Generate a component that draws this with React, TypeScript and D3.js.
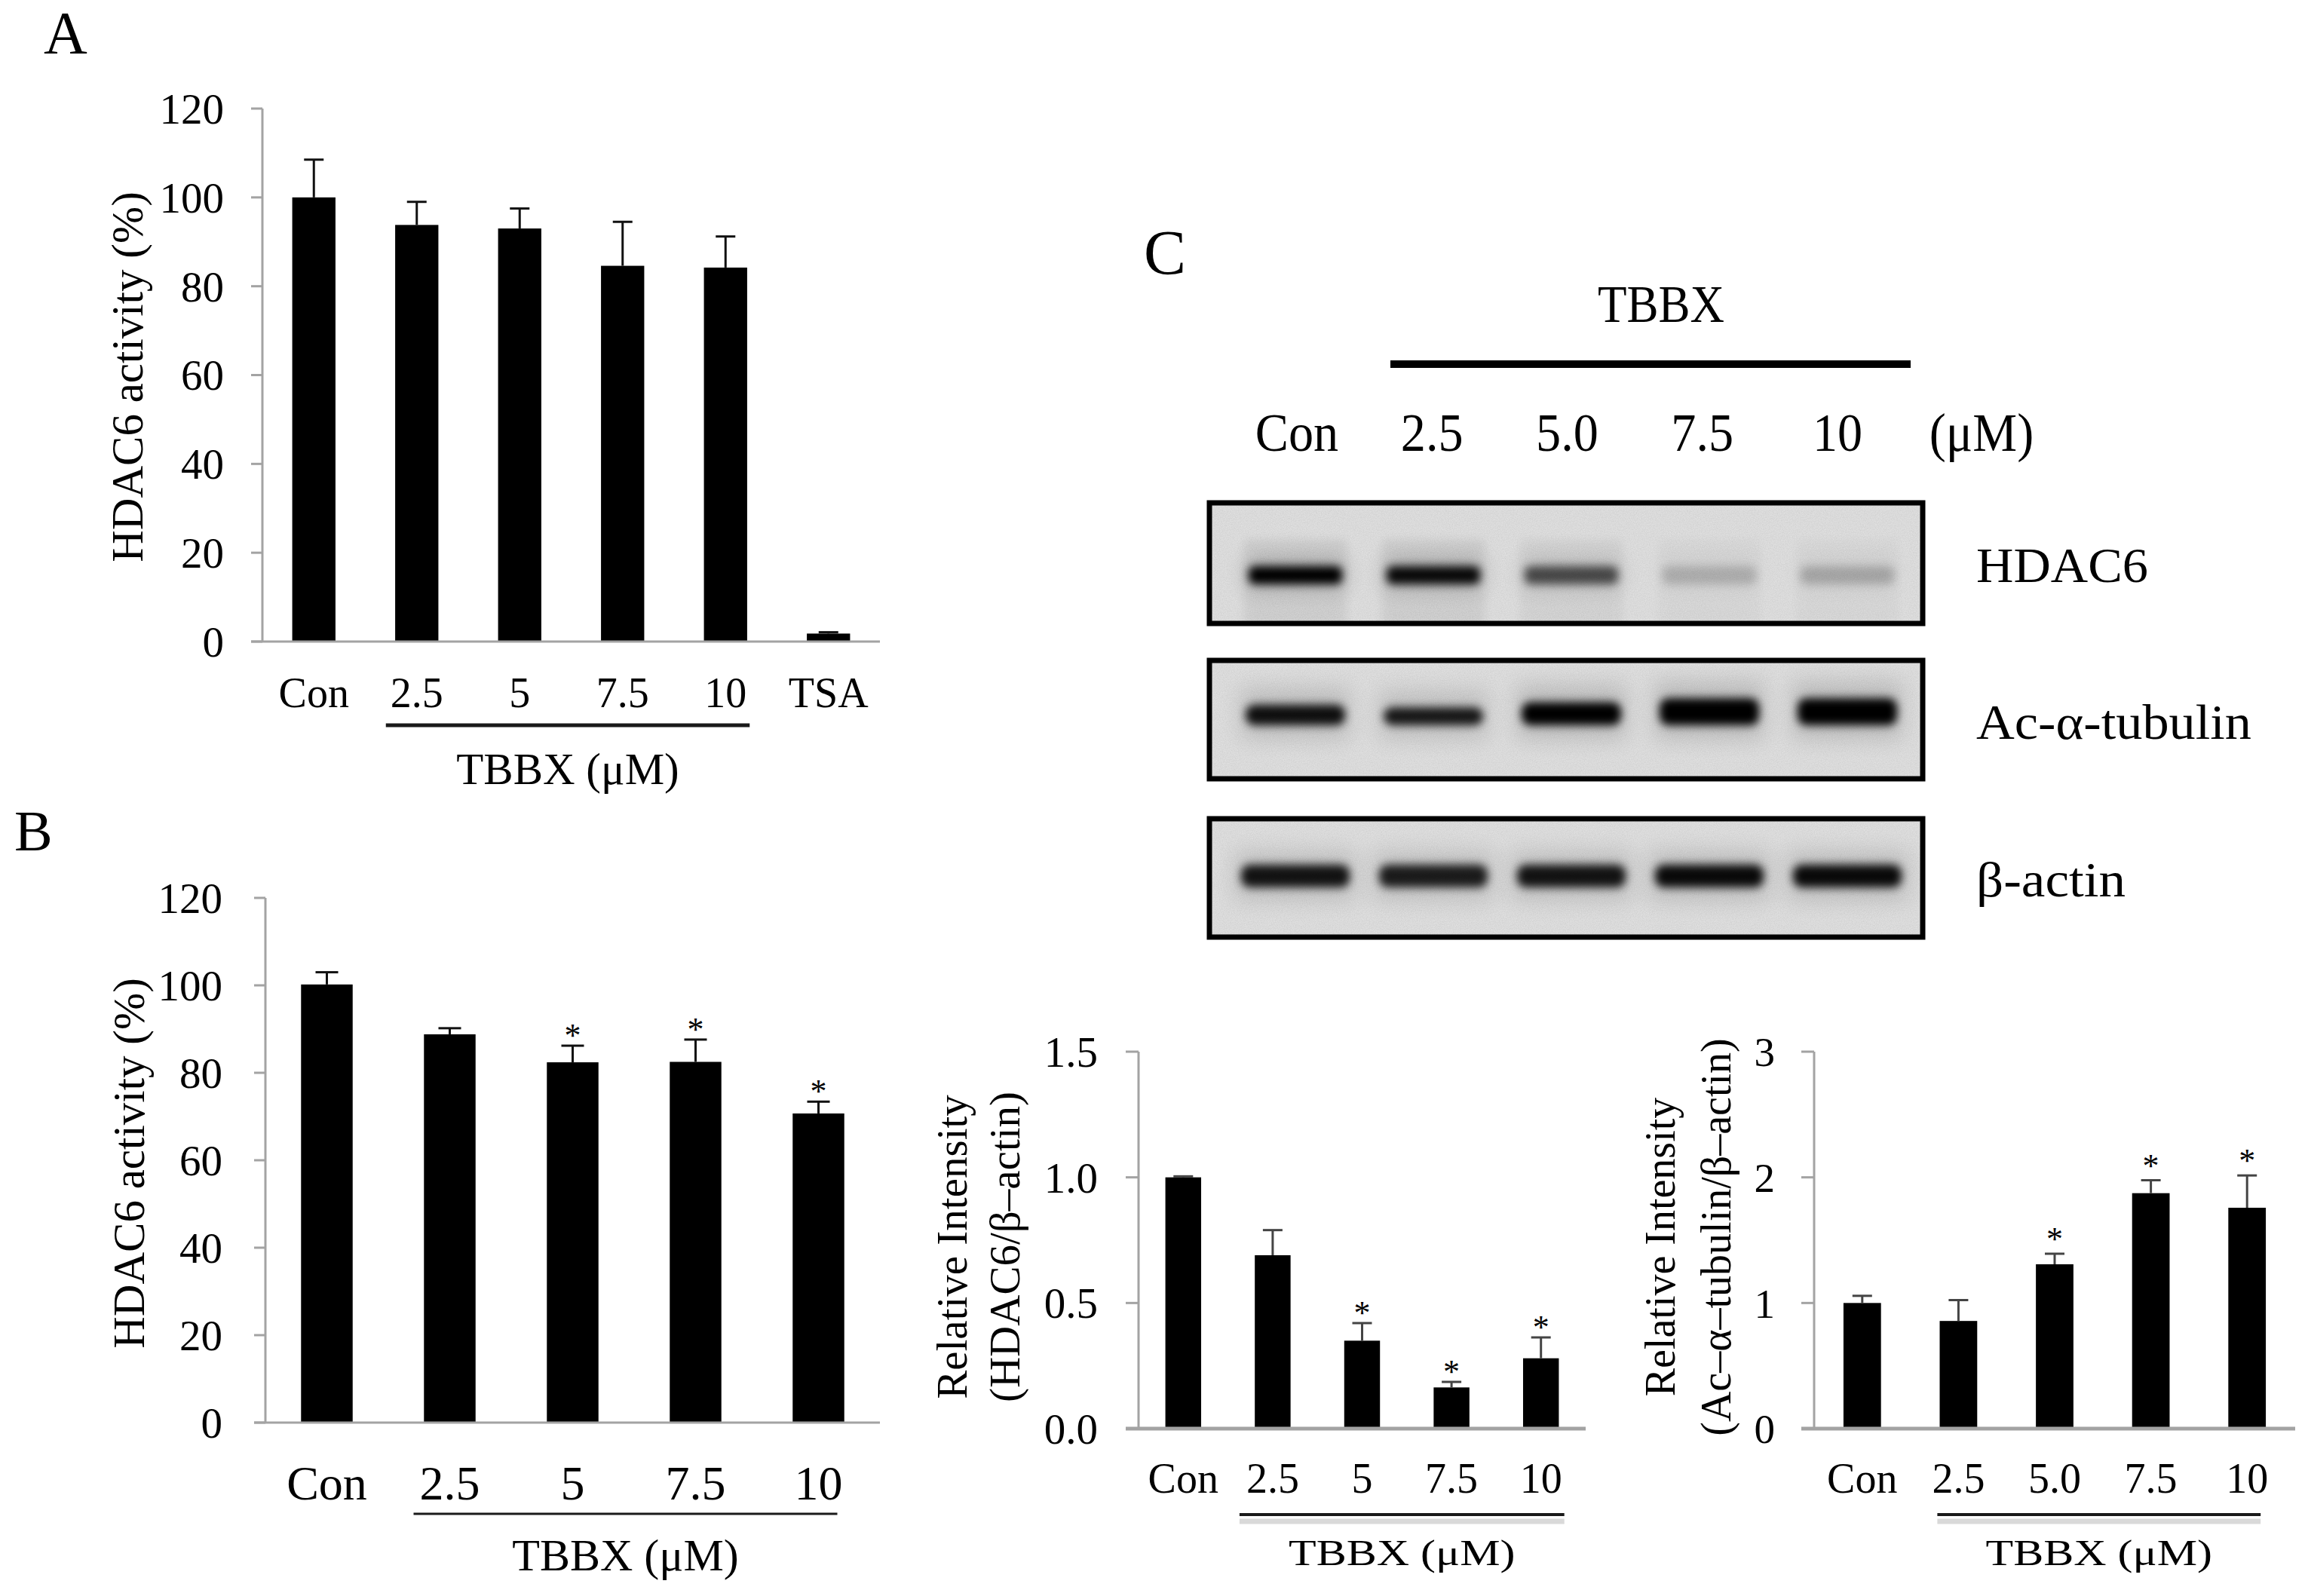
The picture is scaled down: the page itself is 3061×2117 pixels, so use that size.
import React from "react";
import * as d3 from "d3";

const W = 3061;
const H = 2117;
const FONT = "'Liberation Serif', 'Times New Roman', Times, serif";

// ---------- Panel A data ----------
const catsA = ["Con", "2.5", "5", "7.5", "10", "TSA"];
const valsA = [100.0, 93.8, 93.0, 84.6, 84.2, 1.8];
const errsA = [8.5, 5.2, 4.5, 9.9, 7.0, 0.3];
const starsA = [false, false, false, false, false, false];
const ticksA = [0, 20, 40, 60, 80, 100, 120];

// ---------- Panel B data ----------
const catsB = ["Con", "2.5", "5", "7.5", "10"];
const valsB = [100.2, 88.8, 82.4, 82.5, 70.7];
const errsB = [2.8, 1.4, 3.8, 5.1, 2.7];
const starsB = [false, false, true, true, true];
const ticksB = [0, 20, 40, 60, 80, 100, 120];

// ---------- Panel C quantification: HDAC6/β-actin ----------
const catsC1 = ["Con", "2.5", "5", "7.5", "10"];
const valsC1 = [1.0, 0.69, 0.35, 0.164, 0.28];
const errsC1 = [0.004, 0.1, 0.07, 0.022, 0.083];
const starsC1 = [false, false, true, true, true];
const ticksC1 = [0, 0.5, 1.0, 1.5];

// ---------- Panel C quantification: Ac-α-tubulin/β-actin ----------
const catsC2 = ["Con", "2.5", "5.0", "7.5", "10"];
const valsC2 = [1.0, 0.857, 1.308, 1.874, 1.758];
const errsC2 = [0.057, 0.166, 0.084, 0.103, 0.257];
const starsC2 = [false, false, true, true, true];
const ticksC2 = [0, 1, 2, 3];

// ---------- Panel C western blot ----------
const blotLanes = ["Con", "2.5", "5.0", "7.5", "10"];
const blotRows = ["HDAC6", "Ac-α-tubulin", "β-actin"];
const hdac6Band = [1.0, 0.95, 0.62, 0.17, 0.2];
const acTubulinBand = [0.92, 0.88, 1.0, 1.0, 1.0];
const acTubulinThick = [0.8, 0.7, 0.9, 1.05, 1.05];
const actinBand = [0.9, 0.86, 0.9, 0.95, 0.95];

type ChartProps = {
  cats: string[];
  vals: number[];
  errs: number[];
  stars: boolean[];
  ticks: number[];
  yMax: number;
  fmt: (n: number) => string;
  x0: number;
  x1: number;
  yTop: number;
  yBot: number;
  pad: number;
  tickLen: number;
  yTickRight: number;
  yTickFont: number;
  xTickFont: number;
  xTickBase: number;
  yLabels: string[];
  yLabelX: number[];
  yLabelY: number[];
  yLabelFont: number;
  ulFrom: number;
  ulTo: number;
  ulL: number;
  ulR: number;
  ulY: number;
  ulW: number;
  ulShadow: boolean;
  tbbxBase: number;
  tbbxFont: number;
  tbbxSx: number;
  capW: number;
  errColor: string;
  xAxisW: number;
  starFont: number;
  starOff: number;
};

function BarChart(p: ChartProps) {
  const x = d3
    .scaleBand<string>()
    .domain(p.cats)
    .range([p.x0, p.x1])
    .paddingInner(p.pad)
    .paddingOuter(p.pad / 2);
  const y = d3.scaleLinear().domain([0, p.yMax]).range([p.yBot, p.yTop]);
  const bw = x.bandwidth();
  const cx = (c: string) => (x(c) as number) + bw / 2;
  const axisColor = "#a3a3a3";
  const ulX1 = cx(p.cats[p.ulFrom]) - p.ulL;
  const ulX2 = cx(p.cats[p.ulTo]) + p.ulR;
  const ulMid = (ulX1 + ulX2) / 2;
  return (
    <g fontFamily={FONT} fill="#000">
      <line x1={p.x0} x2={p.x0} y1={p.yTop} y2={p.yBot} stroke={axisColor} strokeWidth={3} />
      {p.ticks.map((t) => (
        <g key={"t" + t}>
          <line x1={p.x0 - p.tickLen} x2={p.x0} y1={y(t)} y2={y(t)} stroke={axisColor} strokeWidth={3} />
          <text x={p.yTickRight} y={y(t)} dy="0.35em" textAnchor="end" fontSize={p.yTickFont}>
            {p.fmt(t)}
          </text>
        </g>
      ))}
      {p.cats.map((c, i) => (
        <rect key={"b" + c} x={x(c)} y={y(p.vals[i])} width={bw} height={p.yBot - y(p.vals[i])} fill="#000" />
      ))}
      {p.cats.map((c, i) => {
        const top = y(p.vals[i] + p.errs[i]);
        return (
          <g key={"e" + c} stroke={p.errColor} strokeWidth={3}>
            <line x1={cx(c)} x2={cx(c)} y1={y(p.vals[i])} y2={top} />
            <line x1={cx(c) - p.capW / 2} x2={cx(c) + p.capW / 2} y1={top} y2={top} />
          </g>
        );
      })}
      {p.cats.map((c, i) =>
        p.stars[i] ? (
          <text key={"s" + c} x={cx(c)} y={y(p.vals[i] + p.errs[i]) - p.starOff} textAnchor="middle" fontSize={p.starFont}>
            *
          </text>
        ) : null
      )}
      <line x1={p.x0 - p.tickLen} x2={p.x1} y1={p.yBot} y2={p.yBot} stroke={axisColor} strokeWidth={p.xAxisW} />
      {p.cats.map((c) => (
        <text key={"x" + c} x={cx(c)} y={p.xTickBase} textAnchor="middle" fontSize={p.xTickFont}>
          {c}
        </text>
      ))}
      {p.yLabels.map((l, i) => (
        <text
          key={"yl" + i}
          transform={`translate(${p.yLabelX[i]},${p.yLabelY[i]}) rotate(-90)`}
          textAnchor="middle"
          dy="0.35em"
          fontSize={p.yLabelFont}
        >
          {l}
        </text>
      ))}
      {p.ulShadow ? (
        <line x1={ulX1} x2={ulX2} y1={p.ulY + 9} y2={p.ulY + 9} stroke="#d9d9d9" strokeWidth={7} />
      ) : null}
      <line x1={ulX1} x2={ulX2} y1={p.ulY} y2={p.ulY} stroke="#1a1a1a" strokeWidth={p.ulW} />
      <text
        transform={`translate(${ulMid},${p.tbbxBase}) scale(${p.tbbxSx},1)`}
        textAnchor="middle"
        fontSize={p.tbbxFont}
      >
        TBBX (μM)
      </text>
    </g>
  );
}

function Blot() {
  const boxX0 = 1601;
  const boxX1 = 2553;
  const boxes = [
    [664, 830],
    [873, 1036],
    [1083, 1246],
  ];
  const lane = d3.scalePoint<string>().domain(blotLanes).range([1718, 2450]);
  const labelLane = d3.scalePoint<string>().domain(blotLanes).range([1720, 2437]);
  const bandW = 132;
  const rowBase = [772, 980, 1189];
  const rowLen = [228, 365, 198];
  return (
    <g fontFamily={FONT}>
      <defs>
        <filter id="blur6" x="-50%" y="-100%" width="200%" height="300%">
          <feGaussianBlur stdDeviation="6" />
        </filter>
        <filter id="blur14" x="-50%" y="-100%" width="200%" height="300%">
          <feGaussianBlur stdDeviation="14" />
        </filter>
        <filter id="grain" x="0" y="0" width="100%" height="100%">
          <feTurbulence type="fractalNoise" baseFrequency="0.8" numOctaves="2" seed="3" />
          <feColorMatrix type="matrix" values="0 0 0 0 0  0 0 0 0 0  0 0 0 0 0  0 0 0 0.18 0" />
        </filter>
        {boxes.map((b, i) => (
          <clipPath id={"clip" + i} key={"c" + i}>
            <rect x={boxX0} y={b[0]} width={boxX1 - boxX0} height={b[1] - b[0]} />
          </clipPath>
        ))}
      </defs>
      <text x={1517} y={364} fontSize={84}>C</text>
      <text transform="translate(2203,427) scale(0.9,1)" textAnchor="middle" fontSize={70}>
        TBBX
      </text>
      <line x1={1844} x2={2534} y1={483} y2={483} stroke="#000" strokeWidth={10} />
      {blotLanes.map((l) => (
        <text
          key={"ll" + l}
          transform={`translate(${labelLane(l)},598) scale(0.92,1)`}
          textAnchor="middle"
          fontSize={72}
        >
          {l}
        </text>
      ))}
      <text transform="translate(2628,598) scale(0.92,1)" textAnchor="middle" fontSize={72}>
        (μM)
      </text>

      {boxes.map((b, bi) => (
        <g key={"box" + bi}>
          <g clipPath={`url(#clip${bi})`}>
            <rect x={boxX0} y={b[0]} width={boxX1 - boxX0} height={b[1] - b[0]} fill="#e6e6e6" />
            <rect x={boxX0} y={b[0]} width={boxX1 - boxX0} height={b[1] - b[0]} filter="url(#grain)" opacity={0.6} />
            {bi === 0 &&
              blotLanes.map((l, i) => (
                <g key={"h" + l}>
                  <rect
                    x={(lane(l) as number) - 68}
                    y={715}
                    width={136}
                    height={130}
                    fill="#000"
                    opacity={0.05 * hdac6Band[i] + 0.01}
                    filter="url(#blur6)"
                  />
                  <rect
                    x={(lane(l) as number) - bandW / 2}
                    y={740}
                    width={bandW}
                    height={42}
                    fill="#000"
                    opacity={0.18 * hdac6Band[i]}
                    filter="url(#blur14)"
                  />
                  <rect
                    x={(lane(l) as number) - bandW / 2 + 4}
                    y={751}
                    width={bandW - 8}
                    height={24}
                    rx={8}
                    fill="#000"
                    opacity={hdac6Band[i]}
                    filter="url(#blur6)"
                  />
                </g>
              ))}
            {bi === 1 &&
              blotLanes.map((l, i) => {
                const h = 34 * acTubulinThick[i];
                return (
                  <g key={"a" + l}>
                    <rect
                      x={(lane(l) as number) - bandW / 2 - 6}
                      y={960 - h - 20}
                      width={bandW + 12}
                      height={h + 40}
                      fill="#000"
                      opacity={0.14 * acTubulinBand[i]}
                      filter="url(#blur14)"
                    />
                    <rect
                      x={(lane(l) as number) - bandW / 2}
                      y={962 - h}
                      width={bandW}
                      height={h}
                      rx={12}
                      fill="#000"
                      opacity={acTubulinBand[i]}
                      filter="url(#blur6)"
                    />
                  </g>
                );
              })}
            {bi === 2 &&
              blotLanes.map((l, i) => (
                <g key={"b" + l}>
                  <rect
                    x={(lane(l) as number) - 80}
                    y={1130}
                    width={160}
                    height={64}
                    fill="#000"
                    opacity={0.14 * actinBand[i]}
                    filter="url(#blur14)"
                  />
                  <rect
                    x={(lane(l) as number) - 72}
                    y={1147}
                    width={144}
                    height={30}
                    rx={12}
                    fill="#000"
                    opacity={actinBand[i]}
                    filter="url(#blur6)"
                  />
                </g>
              ))}
          </g>
          <rect
            x={boxX0 + 3}
            y={b[0] + 3}
            width={boxX1 - boxX0 - 6}
            height={b[1] - b[0] - 6}
            fill="none"
            stroke="#000"
            strokeWidth={7}
          />
        </g>
      ))}
      {blotRows.map((r, i) => (
        <text
          key={"r" + r}
          x={2621}
          y={rowBase[i]}
          fontSize={66}
          textLength={rowLen[i]}
          lengthAdjust="spacingAndGlyphs"
        >
          {r}
        </text>
      ))}
    </g>
  );
}

export default function App() {
  const fmtInt = d3.format("d");
  const fmt1 = d3.format(".1f");
  return (
    <svg
      width={W}
      height={H}
      viewBox={`0 0 ${W} ${H}`}
      style={{ position: "absolute", left: 0, top: 0, background: "#fff", display: "block" }}
    >
      <rect x={0} y={0} width={W} height={H} fill="#fff" />
      <text x={58} y={71} fontFamily={FONT} fontSize={80}>A</text>
      <text x={19} y={1128} fontFamily={FONT} fontSize={76}>B</text>

      <BarChart
        cats={catsA}
        vals={valsA}
        errs={errsA}
        stars={starsA}
        ticks={ticksA}
        yMax={120}
        fmt={fmtInt}
        x0={348}
        x1={1167}
        yTop={144}
        yBot={851}
        pad={0.58}
        tickLen={15}
        yTickRight={297}
        yTickFont={57}
        xTickFont={56}
        xTickBase={938}
        yLabels={["HDAC6 activity (%)"]}
        yLabelX={[168]}
        yLabelY={[500]}
        yLabelFont={59}
        ulFrom={1}
        ulTo={4}
        ulL={41}
        ulR={32}
        ulY={962}
        ulW={5}
        ulShadow={false}
        tbbxBase={1040}
        tbbxFont={59}
        tbbxSx={1}
        capW={26}
        errColor="#111"
        xAxisW={3}
        starFont={44}
        starOff={-1}
      />

      <BarChart
        cats={catsB}
        vals={valsB}
        errs={errsB}
        stars={starsB}
        ticks={ticksB}
        yMax={120}
        fmt={fmtInt}
        x0={352}
        x1={1167}
        yTop={1191}
        yBot={1887}
        pad={0.58}
        tickLen={15}
        yTickRight={295}
        yTickFont={57}
        xTickFont={64}
        xTickBase={1989}
        yLabels={["HDAC6 activity (%)"]}
        yLabelX={[170]}
        yLabelY={[1543]}
        yLabelFont={59}
        ulFrom={1}
        ulTo={4}
        ulL={48}
        ulR={25}
        ulY={2008}
        ulW={3}
        ulShadow={false}
        tbbxBase={2083}
        tbbxFont={60}
        tbbxSx={1}
        capW={30}
        errColor="#111"
        xAxisW={3}
        starFont={44}
        starOff={-1}
      />

      <Blot />

      <BarChart
        cats={catsC1}
        vals={valsC1}
        errs={errsC1}
        stars={starsC1}
        ticks={ticksC1}
        yMax={1.5}
        fmt={fmt1}
        x0={1510}
        x1={2103}
        yTop={1395}
        yBot={1895}
        pad={0.6}
        tickLen={17}
        yTickRight={1456}
        yTickFont={57}
        xTickFont={56}
        xTickBase={1980}
        yLabels={["Relative Intensity", "(HDAC6/β–actin)"]}
        yLabelX={[1262, 1332]}
        yLabelY={[1654, 1654]}
        yLabelFont={57}
        ulFrom={1}
        ulTo={4}
        ulL={44}
        ulR={31}
        ulY={2009}
        ulW={4}
        ulShadow={true}
        tbbxBase={2076}
        tbbxFont={48}
        tbbxSx={1.25}
        capW={26}
        errColor="#444"
        xAxisW={5}
        starFont={44}
        starOff={-1}
      />

      <BarChart
        cats={catsC2}
        vals={valsC2}
        errs={errsC2}
        stars={starsC2}
        ticks={ticksC2}
        yMax={3}
        fmt={fmtInt}
        x0={2406}
        x1={3044}
        yTop={1395}
        yBot={1895}
        pad={0.61}
        tickLen={17}
        yTickRight={2354}
        yTickFont={55}
        xTickFont={56}
        xTickBase={1980}
        yLabels={["Relative Intensity", "(Ac–α–tubulin/β–actin)"]}
        yLabelX={[2201, 2275]}
        yLabelY={[1654, 1641]}
        yLabelFont={56}
        ulFrom={1}
        ulTo={4}
        ulL={28}
        ulR={18}
        ulY={2009}
        ulW={4}
        ulShadow={true}
        tbbxBase={2076}
        tbbxFont={48}
        tbbxSx={1.25}
        capW={26}
        errColor="#444"
        xAxisW={5}
        starFont={44}
        starOff={5}
      />
    </svg>
  );
}
